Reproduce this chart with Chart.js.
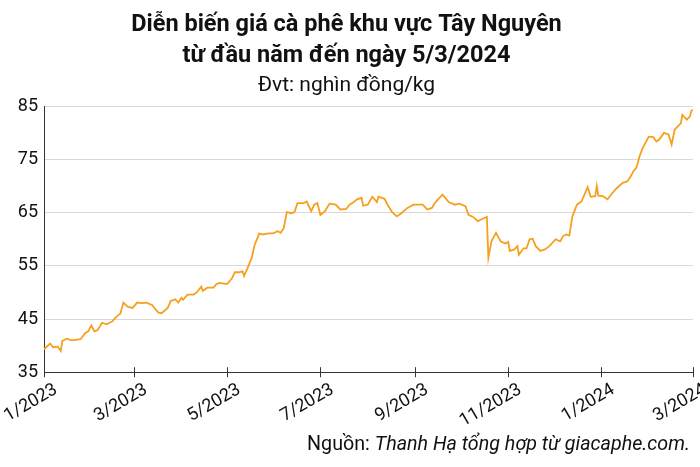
<!DOCTYPE html>
<html>
<head>
<meta charset="utf-8">
<script src="https://cdn.jsdelivr.net/npm/chart.js@4.4.1/dist/chart.umd.min.js"></script>
<style>
  html, body { margin: 0; padding: 0; background: #fff; overflow: hidden; }
  #wrap { width: 700px; height: 467px; position: relative; overflow: hidden; }
</style>
</head>
<body>
<div id="wrap"><canvas id="c" width="700" height="467"></canvas></div>
<script>
// Days since 1/1/2023
const days = [0,4,6,9,11,12,15,18,24,27,29,31,33,35,38,41,45,46,48,50,52,55,58,61,64,67,71,73,75,77,81,83,86,88,90,91,94,98,100,103,104,107,111,113,115,119,120,123,125,128,130,131,133,136,138,141,143,147,150,153,155,157,159,162,164,166,170,172,175,177,179,181,184,187,191,194,198,200,202,205,208,209,212,215,218,219,223,225,228,231,234,238,242,248,251,254,256,258,261,265,269,272,276,278,281,284,287,290,291,293,296,299,302,304,305,308,310,311,314,316,318,320,322,325,328,331,335,338,340,342,344,346,349,352,356,358,361,362,363,366,369,372,375,379,382,384,386,388,390,392,396,399,401,403,406,409,411,413,417,418,421,423,424,425];
const prices = [39.3,40.4,39.7,39.8,39.0,40.9,41.3,41.0,41.2,42.4,42.7,43.8,42.7,42.9,44.3,44.0,44.6,45.0,45.6,46.0,48.1,47.3,47.1,48.1,48.0,48.1,47.6,46.8,46.2,46.1,47.1,48.4,48.7,48.1,49.0,48.6,49.6,49.6,50.0,51.1,50.3,50.9,50.9,51.6,51.8,51.6,51.6,52.6,53.8,53.8,54.0,53.1,54.4,56.5,59.0,61.1,60.9,61.1,61.1,61.5,61.2,62.1,65.1,64.9,65.1,66.8,66.8,67.1,65.3,66.5,66.8,64.6,65.3,66.7,66.5,65.6,65.7,66.5,66.8,67.5,67.8,66.3,66.5,68.0,67.0,68.0,67.6,66.5,65.1,64.3,64.9,65.9,66.5,66.5,65.6,65.9,66.8,67.5,68.4,67.0,66.5,66.7,66.2,64.6,64.2,63.4,63.8,64.2,56.5,59.6,61.2,59.6,59.2,59.5,57.8,58.1,58.7,57.1,58.3,58.3,60.0,60.1,58.7,57.8,58.1,58.7,60.0,59.6,60.6,60.9,60.7,64.3,66.5,67.1,69.8,68.0,68.1,70.0,68.2,68.1,67.5,68.6,69.6,70.6,70.9,71.7,72.8,73.5,75.6,77.1,79.3,79.2,78.4,78.8,80.0,79.7,77.8,80.6,81.8,83.4,82.5,83.1,84.2,84.3];
const tickDays = [0,59,120,181,243,304,365,425];
const tickLabels = ["1/2023","3/2023","5/2023","7/2023","9/2023","11/2023","1/2024","3/2024"];
const yTicks = [35,45,55,65,75,85];

const titleLines = ["Diễn biến giá cà phê khu vực Tây Nguyên","từ đầu năm đến ngày 5/3/2024"];
const subtitleText = "Đvt: nghìn đồng/kg";
const sourceLabel = "Nguồn: ";
const sourceText = "Thanh Hạ tổng hợp từ giacaphe.com.";

const FONT = "Roboto, 'Liberation Sans', sans-serif";

const extrasPlugin = {
  id: 'extras',
  afterDraw(chart) {
    const ctx = chart.ctx;
    const xs = chart.scales.x;
    const ys = chart.scales.y;
    const y0 = ys.getPixelForValue(35);
    ctx.save();
    ctx.strokeStyle = '#333';
    ctx.lineWidth = 1;
    tickDays.forEach(d => {
      const x = Math.round(xs.getPixelForValue(d)) + 0.5;
      ctx.beginPath();
      ctx.moveTo(x, y0 - 5);
      ctx.lineTo(x, y0 + 5);
      ctx.stroke();
    });
    // source
    ctx.fillStyle = '#111';
    ctx.textBaseline = 'alphabetic';
    ctx.font = "italic 19.7px " + FONT;
    const w2 = ctx.measureText(sourceText).width;
    ctx.font = "19.7px " + FONT;
    const w1 = ctx.measureText(sourceLabel).width;
    const right = 690;
    const by = 450;
    ctx.textAlign = 'left';
    ctx.fillText(sourceLabel, right - w2 - w1, by);
    ctx.font = "italic 19.7px " + FONT;
    ctx.fillText(sourceText, right - w2, by);
    ctx.restore();
  }
};

new Chart(document.getElementById('c'), {
  type: 'line',
  data: {
    datasets: [{
      data: days.map((d, i) => ({ x: d, y: prices[i] })),
      borderColor: '#F7A01E',
      borderWidth: 1.8,
      pointRadius: 0,
      tension: 0,
      fill: false
    }]
  },
  options: {
    responsive: false,
    animation: false,
    devicePixelRatio: 1,
    layout: { padding: { left: 0, right: 7, top: 0, bottom: 28 } },
    plugins: {
      legend: { display: false },
      tooltip: { enabled: false },
      title: {
        display: true,
        text: titleLines,
        color: '#111',
        font: { family: FONT, size: 23.5, weight: 'bold', lineHeight: 1.3 },
        padding: { top: 10, bottom: 0 }
      },
      subtitle: {
        display: true,
        text: subtitleText,
        color: '#111',
        font: { family: FONT, size: 21, weight: 'normal', lineHeight: 1.2 },
        padding: { top: 2, bottom: 8 }
      }
    },
    scales: {
      x: {
        type: 'linear',
        min: 0,
        max: 425,
        afterBuildTicks(scale) { scale.ticks = tickDays.map(v => ({ value: v })); },
        afterFit(scale) { scale.paddingLeft = 0; scale.paddingRight = 0; },
        ticks: {
          autoSkip: false,
          maxRotation: 30,
          minRotation: 30,
          color: '#111',
          font: { family: FONT, size: 18 },
          padding: 7,
          labelOffset: 12,
          callback(v) { const i = tickDays.indexOf(v); return i >= 0 ? tickLabels[i] : ''; }
        },
        grid: { display: false, drawTicks: false },
        border: { display: true, color: '#333', width: 1 }
      },
      y: {
        min: 35,
        max: 85,
        afterBuildTicks(scale) { scale.ticks = yTicks.map(v => ({ value: v })); },
        afterFit(scale) { scale.width = 44; },
        ticks: {
          color: '#111',
          font: { family: FONT, size: 18 },
          padding: 6
        },
        grid: { color: '#d9d9d9', lineWidth: 1, drawTicks: false },
        border: { display: true, color: '#333', width: 1 }
      }
    }
  },
  plugins: [extrasPlugin]
});
</script>
</body>
</html>
